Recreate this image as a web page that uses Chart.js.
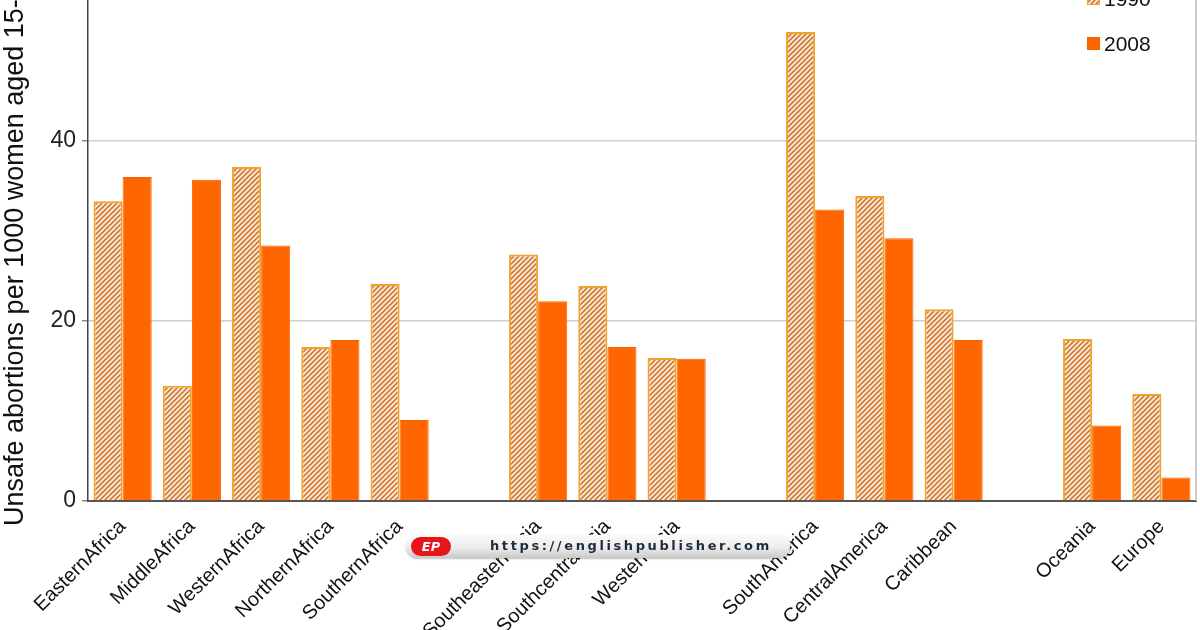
<!DOCTYPE html>
<html>
<head>
<meta charset="utf-8">
<script src="https://cdn.jsdelivr.net/npm/chart.js@4.4.1/dist/chart.umd.min.js"></script>
<style>
  html, body { margin: 0; padding: 0; background: #fff; overflow: hidden; }
  body { width: 1200px; height: 630px; position: relative; font-family: "Liberation Sans", Arial, sans-serif; }
  #wrap { position: absolute; left: 0; top: -60px; width: 1200px; height: 690px; }
  #pill {
    position: absolute; left: 405px; top: 535px; width: 385px; height: 23px;
    border-radius: 12px;
    background: linear-gradient(to bottom, #fafafa 0%, #ececec 55%, #c9c9c9 100%);
    box-shadow: 1px 1px 2px rgba(0,0,0,0.25);
  }
  #logo {
    position: absolute; left: 411px; top: 537px; width: 40px; height: 19px;
    border-radius: 10px; background: #e8141b; color: #fff;
    font: bold italic 13px "DejaVu Sans", sans-serif; line-height: 19px; text-align: center;
  }
  #url {
    position: absolute; left: 490px; top: 538px;
    font: bold 13px "DejaVu Sans", sans-serif; letter-spacing: 2.6px; color: #1e2b3a;
  }
</style>
</head>
<body>
<div id="wrap"><canvas id="chart" width="1200" height="690"></canvas></div>
<div id="pill"></div>
<div id="logo">EP</div>
<div id="url">https://englishpublisher.com</div>
<script>
const categories = [
  'EasternAfrica', 'MiddleAfrica', 'WesternAfrica', 'NorthernAfrica', 'SouthernAfrica', '',
  'SoutheasternAsia', 'SouthcentralAsia', 'WesternAsia', '',
  'SouthAmerica', 'CentralAmerica', 'Caribbean', '',
  'Oceania', 'Europe'
];
const values1990 = [33.3, 12.8, 37.1, 17.1, 24.1, null, 27.4, 23.9, 15.9, null, 52.1, 33.9, 21.3, null, 18.0, 11.9];
const values2008 = [36.0, 35.7, 28.4, 17.9, 9.0, null, 22.2, 17.1, 15.8, null, 32.4, 29.2, 17.9, null, 8.4, 2.6];
const yTicks = [0, 20, 40, 60];
const yTitle = 'Unsafe abortions per 1000 women aged 15-44';

const FONT = '"Liberation Sans", Arial, sans-serif';

function hatch() {
  const c = document.createElement('canvas');
  c.width = 5; c.height = 5;
  const g = c.getContext('2d');
  g.fillStyle = '#fbeedd';
  g.fillRect(0, 0, 5, 5);
  g.strokeStyle = '#d27a36';
  g.lineWidth = 1.7;
  g.beginPath();
  g.moveTo(-1, 6); g.lineTo(6, -1);
  g.moveTo(-1, 1); g.lineTo(1, -1);
  g.moveTo(4, 6); g.lineTo(6, 4);
  g.stroke();
  return g.createPattern(c, 'repeat');
}

const hatchFill = hatch();

// legend box, right frame line and the y title
const extrasPlugin = {
  id: 'extras',
  afterDraw(chart) {
    const ctx = chart.ctx;
    const rows = [59, 104];
    ctx.save();
    ctx.strokeStyle = '#bdbdbd';
    ctx.lineWidth = 1.5;
    ctx.beginPath();
    ctx.moveTo(chart.chartArea.right, chart.chartArea.top);
    ctx.lineTo(chart.chartArea.right, chart.chartArea.bottom);
    ctx.stroke();

    chart.data.datasets.forEach((ds, i) => {
      const y = rows[i];
      ctx.fillStyle = ds.backgroundColor;
      ctx.fillRect(1087, y - 7, 13, 13);
      ctx.strokeStyle = ds.borderColor;
      ctx.lineWidth = 1;
      ctx.strokeRect(1087.5, y - 6.5, 12, 12);
      ctx.fillStyle = '#111';
      ctx.font = '21px ' + FONT;
      ctx.textBaseline = 'middle';
      ctx.textAlign = 'left';
      ctx.fillText(ds.label, 1104, y + 1);
    });

    ctx.translate(16, 586);
    ctx.rotate(-Math.PI / 2);
    ctx.fillStyle = '#111';
    ctx.font = '27px ' + FONT;
    ctx.textAlign = 'left';
    ctx.textBaseline = 'middle';
    ctx.fillText(yTitle, 0, 0);
    ctx.restore();
  }
};

new Chart(document.getElementById('chart').getContext('2d'), {
  type: 'bar',
  data: {
    labels: categories,
    datasets: [
      {
        label: '1990',
        data: values1990,
        backgroundColor: hatchFill,
        borderColor: '#f2a22c',
        borderWidth: 2,
        categoryPercentage: 0.84,
        barPercentage: 1.0,
      },
      {
        label: '2008',
        data: values2008,
        backgroundColor: '#ff6600',
        borderColor: '#f46200',
        borderWidth: 1,
        categoryPercentage: 0.84,
        barPercentage: 1.0,
      }
    ]
  },
  options: {
    responsive: false,
    animation: false,
    layout: { padding: { top: 21, right: 4, left: 0, bottom: 0 } },
    plugins: {
      legend: { display: false },
      tooltip: { enabled: false }
    },
    scales: {
      x: {
        grid: { display: false },
        border: { color: '#555', width: 2 },
        ticks: {
          color: '#111',
          font: { size: 20, family: FONT },
          maxRotation: 45,
          minRotation: 45,
          padding: 6,
          autoSkip: false
        },
        afterFit(scale) { scale.height = 129; }
      },
      y: {
        min: 0,
        max: 60,
        afterBuildTicks(scale) { scale.ticks = yTicks.map(v => ({ value: v })); },
        grid: {
          color: (c) => c.tick && c.tick.value === 0 ? 'rgba(0,0,0,0)' : '#cfcfcf',
          lineWidth: 1.5,
          tickLength: 6,
          tickColor: '#888'
        },
        border: { color: '#444', width: 1.5 },
        ticks: {
          color: '#222',
          font: { size: 23, family: FONT },
          padding: 6
        },
        title: { display: false },
        afterFit(scale) { scale.width = 88; }
      }
    }
  },
  plugins: [extrasPlugin]
});
</script>
</body>
</html>
